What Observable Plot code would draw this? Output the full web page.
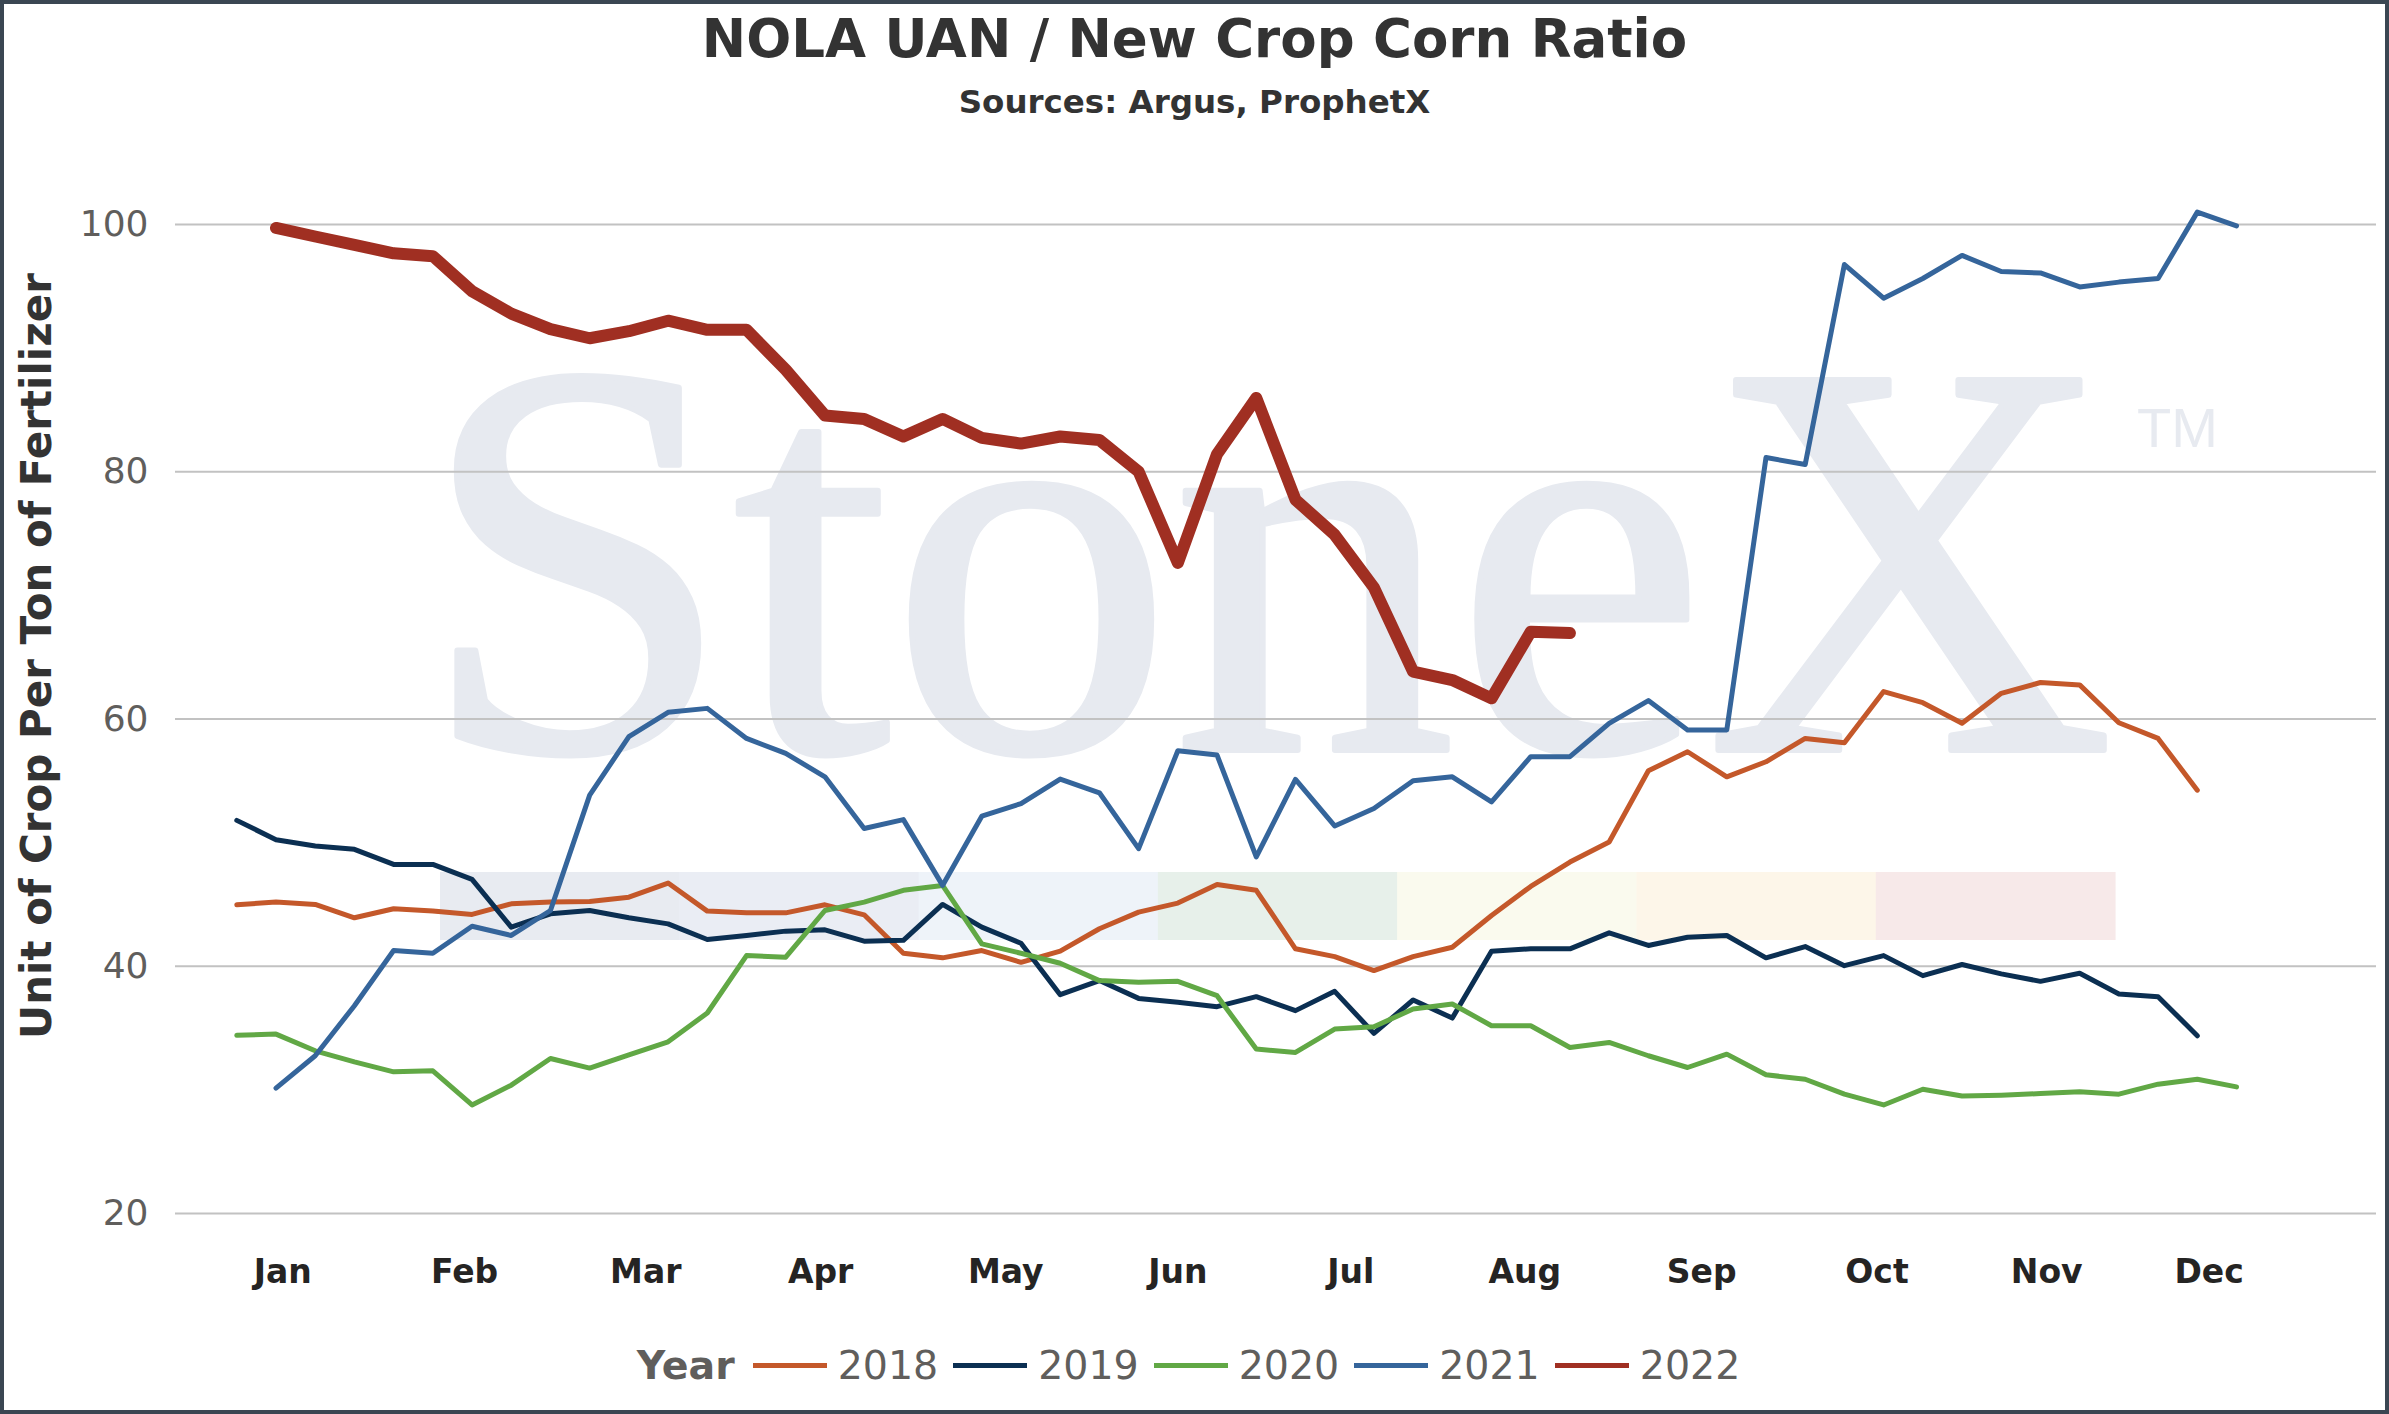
<!DOCTYPE html>
<html><head><meta charset="utf-8">
<script src="https://cdn.jsdelivr.net/npm/d3@7"></script>
<script src="https://cdn.jsdelivr.net/npm/@observablehq/plot@0.6"></script>
<style>
html,body{margin:0;padding:0;background:#fff;}
#wrap{position:relative;width:2389px;height:1414px;overflow:hidden;background:#fff;font-family:"DejaVu Sans",sans-serif;}
#head{position:relative;height:130px;}
#title{position:absolute;left:0;right:0;top:12px;text-align:center;font-size:53px;line-height:53px;font-weight:bold;color:#333;}
#sub{position:absolute;left:0;right:0;top:86px;text-align:center;font-size:32.5px;line-height:32px;font-weight:bold;color:#333;}
#chart svg{display:block;}
#ylabel{position:absolute;left:37px;top:656px;transform:translate(-50%,-50%) rotate(-90deg);white-space:nowrap;font-size:42px;line-height:42px;font-weight:bold;color:#333;}
#legend{position:absolute;left:0;right:0;top:1344px;height:42px;display:flex;justify-content:center;align-items:center;padding-left:3px;font-size:39.5px;line-height:42px;color:#605E5C;}
#legend .ttl{font-weight:bold;margin-right:18px;}
#legend .sw{display:inline-block;width:74px;height:5px;margin-right:11px;}
#legend .lab{margin-right:15px;}
#frame{position:absolute;left:0;top:0;right:0;bottom:0;border:4px solid #3a4652;pointer-events:none;}
</style>
</head><body>
<div id="wrap">
  <div id="head">
    <div id="title">NOLA UAN / New Crop Corn Ratio</div>
    <div id="sub">Sources: Argus, ProphetX</div>
  </div>
  <div id="chart"></div>
  <div id="ylabel">Unit of Crop Per Ton of Fertilizer</div>
  <div id="legend"></div>
  <div id="frame"></div>
</div>
<script>
// ---- data ----
const years = ["2018", "2019", "2020", "2021", "2022"];
const colors = ["#C4582A", "#0B2F52", "#61A845", "#35659B", "#A02F22"];
const firstWeek = [1, 1, 1, 2, 2];

const v2018 = [44.97, 45.19, 45.0, 43.92, 44.65, 44.46, 44.19, 45.05, 45.19, 45.24, 45.59, 46.73, 44.46, 44.32, 44.32, 44.97, 44.16,
  41.05, 40.68, 41.27, 40.32, 41.22, 43.03, 44.38, 45.11, 46.62, 46.14, 41.41, 40.78, 39.65, 40.78, 41.54, 44.11, 46.46,
  48.43, 50.05, 55.81, 57.35, 55.32, 56.54, 58.43, 58.08, 62.22, 61.32, 59.65, 62.08, 62.95, 62.76, 59.70, 58.43, 54.24];
const v2019 = [51.8, 50.24, 49.73, 49.46, 48.24, 48.24, 47.03, 43.16, 44.24, 44.51, 43.92, 43.43, 42.16, 42.49, 42.84, 42.95, 42.03,
  42.1, 45.0, 43.16, 41.86, 37.7, 38.84, 37.4, 37.08, 36.73, 37.54, 36.41, 37.97, 34.57, 37.27, 35.81, 41.22, 41.41,
  41.41, 42.70, 41.68, 42.35, 42.49, 40.68, 41.59, 40.05, 40.86, 39.24, 40.14, 39.38, 38.78, 39.43, 37.76, 37.54, 34.38];
const v2020 = [34.41, 34.51, 33.16, 32.27, 31.46, 31.54, 28.78, 30.38, 32.54, 31.76, 32.84, 33.89, 36.22, 40.86, 40.73, 44.51, 45.19,
  46.14, 46.54, 41.81, 41.05, 40.24, 38.84, 38.7, 38.78, 37.62, 33.3, 33.03, 34.92, 35.11, 36.54, 36.95, 35.19, 35.19,
  33.43, 33.84, 32.76, 31.81, 32.89, 31.22, 30.86, 29.65, 28.78, 30.05, 29.51, 29.57, 29.70, 29.84, 29.65, 30.46, 30.86, 30.24];
const v2021 = [30.14, 32.76, 36.81, 41.27, 41.05, 43.24, 42.49, 44.51, 53.84, 58.57, 60.54, 60.86, 58.43, 57.22, 55.32, 51.14,
  51.86, 46.54, 52.14, 53.16, 55.14, 54.03, 49.51, 57.43, 57.08, 48.84, 55.11, 51.35, 52.76, 55.0, 55.32, 53.3, 56.95,
  56.95, 59.65, 61.49, 59.11, 59.11, 81.15, 80.58, 96.76, 94.04, 95.63, 97.5, 96.2, 96.08, 94.95, 95.34, 95.63, 101.0, 99.89];
const v2022 = [99.72, 99.03, 98.35, 97.67, 97.44, 94.6, 92.79, 91.54, 90.8, 91.37, 92.22, 91.48, 91.48, 88.25, 84.55, 84.27,
  82.85, 84.27, 82.74, 82.28, 82.85, 82.57, 80.01, 72.63, 81.43, 85.97, 77.74, 74.9, 70.64, 63.83, 63.15, 61.67, 67.06, 66.95];
const series = [v2018, v2019, v2020, v2021, v2022];

const monthLabels = ["Jan", "Feb", "Mar", "Apr", "May", "Jun", "Jul", "Aug", "Sep", "Oct", "Nov", "Dec"];
const monthWeeks = [2.17, 6.81, 11.43, 15.89, 20.61, 25.0, 29.41, 33.85, 38.36, 42.83, 47.16, 51.3];
const yTicks = [20, 40, 60, 80, 100];
const xDomain = [-0.563, 55.57];

// ---- build rows ----
const rows = years.flatMap((yr, k) => series[k].map((v, j) => ({year: yr, week: firstWeek[k] + j, value: v})));
const labelOf = new Map(monthWeeks.map((w, i) => [w, monthLabels[i]]));

const plot = Plot.plot({
  width: 2389,
  height: 1180,
  marginLeft: 175,
  marginRight: 13,
  marginTop: 94,
  marginBottom: 97,
  x: {type: "linear", domain: xDomain},
  y: {domain: [20, 100]},
  color: {domain: years, range: colors},
  style: {fontFamily: "DejaVu Sans", background: "white", overflow: "visible"},
  marks: [
    Plot.gridY(yTicks, {stroke: "#c2c2c2", strokeOpacity: 1, strokeWidth: 2}),
    Plot.axisY(yTicks, {tickSize: 0, tickPadding: 27, fontSize: 36, fill: "#605E5C", label: null}),
    Plot.axisX(monthWeeks, {tickSize: 0, tickPadding: 46, fontSize: 33, fontWeight: "bold", fill: "#252423",
      tickFormat: d => labelOf.get(d), label: null}),
    Plot.line(rows.filter(d => d.year !== "2022"), {x: "week", y: "value", z: "year", stroke: "year",
      strokeWidth: 5, strokeLinejoin: "round", strokeLinecap: "round"}),
    Plot.line(rows.filter(d => d.year === "2022"), {x: "week", y: "value", z: "year", stroke: "year",
      strokeWidth: 12, strokeLinejoin: "round", strokeLinecap: "round"})
  ]
});
document.getElementById("chart").appendChild(plot);

// ---- StoneX watermark (decoration, behind the marks) ----
const svg = d3.select(plot);
const wm = svg.insert("g", ":first-child").attr("aria-label", "watermark").attr("text-anchor", "start");
const barColors = ["#e8ebf1", "#eaedf4", "#eef3f9", "#e7f0ea", "#fafaee", "#fdf6e9", "#f7e9e9"];
barColors.forEach((c, k) => {
  wm.append("rect").attr("x", 440 + k * 239.3).attr("y", 742).attr("width", 239.8).attr("height", 68).attr("fill", c);
});
wm.append("text").attr("x", 419).attr("y", 620).attr("text-anchor", "start").attr("font-family", "Liberation Serif")
  .attr("font-size", 565).attr("fill", "#e7eaf0").attr("stroke", "#e7eaf0").attr("stroke-width", 6)
  .attr("stroke-linejoin", "round").text("StoneX");
wm.append("text").attr("x", 2137).attr("y", 317).attr("text-anchor", "start").attr("font-family", "Liberation Sans")
  .attr("font-size", 56).attr("fill", "#e7eaf0").text("TM");

// ---- legend ----
const leg = d3.select("#legend");
leg.append("span").attr("class", "ttl").text("Year");
years.forEach((yr, k) => {
  leg.append("span").attr("class", "sw").style("background", colors[k]);
  leg.append("span").attr("class", "lab").text(yr);
});
</script>
</body></html>
